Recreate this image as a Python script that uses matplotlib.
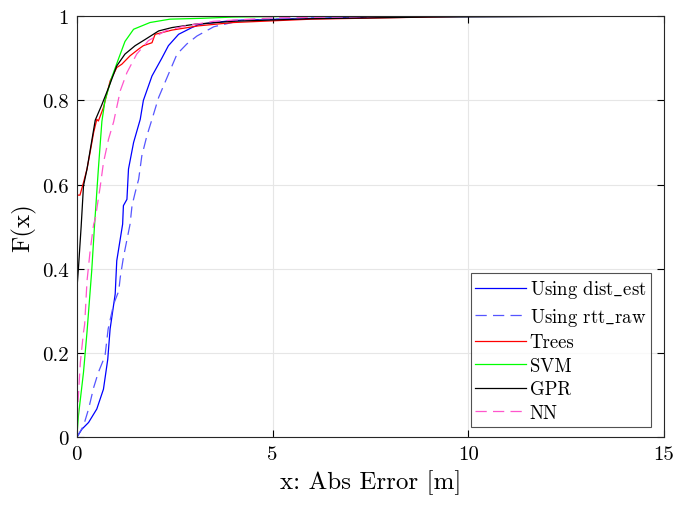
import numpy as np
import matplotlib.pyplot as plt

plt.rcParams['font.family'] = 'serif'
plt.rcParams['font.serif'] = ['cmr10']
plt.rcParams['mathtext.fontset'] = 'cm'
plt.rcParams['axes.formatter.use_mathtext'] = True

# CDF curves (x = abs error [m], F = cumulative fraction)
dist_x = [0, 0.13, 0.30, 0.51, 0.68, 0.79, 0.85, 0.98, 1.02, 1.17, 1.19, 1.28, 1.32, 1.45,
          1.62, 1.70, 1.92, 2.17, 2.34, 2.60, 2.94, 3.14, 4.0, 6.0, 9.0, 14.4]
dist_F = [0, 0.019, 0.035, 0.067, 0.114, 0.185, 0.257, 0.34, 0.419, 0.506, 0.55, 0.565, 0.637, 0.70,
          0.755, 0.80, 0.858, 0.90, 0.93, 0.957, 0.973, 0.981, 0.99, 0.995, 0.999, 1.0]

rtt_x = [0, 0.17, 0.30, 0.43, 0.55, 0.72, 0.80, 0.94, 1.07, 1.11, 1.19, 1.36, 1.41, 1.49,
         1.58, 1.66, 1.79, 1.92, 2.09, 2.34, 2.56, 2.81, 3.07, 3.5, 4.2, 6.0, 9.0]
rtt_F = [0, 0.027, 0.067, 0.118, 0.154, 0.193, 0.257, 0.316, 0.347, 0.38, 0.427, 0.506, 0.55, 0.581,
         0.613, 0.668, 0.716, 0.755, 0.807, 0.862, 0.91, 0.934, 0.953, 0.975, 0.99, 0.996, 1.0]

trees_x = [0, 0, 0.08, 0.17, 0.26, 0.34, 0.43, 0.51, 0.55, 0.68, 0.85, 1.02, 1.15, 1.36,
           1.58, 1.70, 1.92, 2.0, 2.43, 3.1, 4.0, 6.0, 9.0, 10.0, 14.4]
trees_F = [0, 0.575, 0.575, 0.605, 0.637, 0.677, 0.724, 0.755, 0.751, 0.783, 0.846, 0.878, 0.886, 0.906,
           0.922, 0.93, 0.937, 0.957, 0.967, 0.977, 0.985, 0.993, 0.998, 1.0, 1.0]

svm_x = [0, 0.04, 0.17, 0.26, 0.38, 0.45, 0.55, 0.64, 0.72, 0.89, 1.07, 1.23, 1.45, 1.87,
         2.38, 3.2, 4.0, 6.0]
svm_F = [0, 0.05, 0.154, 0.25, 0.395, 0.50, 0.637, 0.75, 0.80, 0.854, 0.90, 0.94, 0.969, 0.985,
         0.993, 0.995, 0.998, 1.0]

gpr_x = [0, 0.0, 0.04, 0.11, 0.17, 0.26, 0.47, 0.64, 0.81, 1.02, 1.23, 1.49, 1.75, 2.09,
         2.43, 3.02, 4.0, 6.0, 9.0, 14.4]
gpr_F = [0, 0.35, 0.40, 0.50, 0.597, 0.637, 0.753, 0.79, 0.83, 0.882, 0.91, 0.93, 0.945, 0.965,
         0.973, 0.981, 0.988, 0.994, 0.998, 1.0]

nn_x = [0, 0.03, 0.09, 0.17, 0.20, 0.26, 0.34, 0.43, 0.47, 0.60, 0.68, 0.81, 0.94, 1.11,
        1.28, 1.53, 1.83, 2.26, 2.77, 3.5, 5.0, 8.0]
nn_F = [0, 0.083, 0.178, 0.249, 0.268, 0.371, 0.443, 0.506, 0.518, 0.597, 0.652, 0.708, 0.749, 0.823,
        0.866, 0.91, 0.942, 0.965, 0.977, 0.988, 0.996, 1.0]

labels = ['Using ' + r'$\mathrm{dist\_est}$', 'Using ' + r'$\mathrm{rtt\_raw}$',
          'Trees', 'SVM', 'GPR', 'NN']

fig = plt.figure(figsize=(6.74, 5.06), dpi=100)
ax = fig.add_axes([0.114, 0.134, 0.871, 0.832])

dash = (0, (9, 5))
ax.plot(dist_x, dist_F, color='#0000ff', lw=0.9, label=labels[0])
ax.plot(rtt_x, rtt_F, color='#5555ff', lw=0.9, ls=dash, label=labels[1])
ax.plot(trees_x, trees_F, color='#ff0000', lw=0.9, label=labels[2])
ax.plot(svm_x, svm_F, color='#00ff00', lw=0.9, label=labels[3])
ax.plot(gpr_x, gpr_F, color='#000000', lw=0.9, label=labels[4])
ax.plot(nn_x, nn_F, color='#ff55cc', lw=0.9, ls=dash, label=labels[5])

ax.set_xlim(0, 15)
ax.set_ylim(0, 1)
ax.set_xticks([0, 5, 10, 15])
ax.set_xticklabels(['0', '5', '10', '15'])
ax.set_yticks([0, 0.2, 0.4, 0.6, 0.8, 1])
ax.set_yticklabels(['0', '0.2', '0.4', '0.6', '0.8', '1'])
ax.tick_params(direction='in', top=True, right=True, labelsize=15, length=5, width=0.8, pad=6)
ax.grid(True, color='#e6e6e6', lw=0.8)
ax.set_axisbelow(True)
for s in ax.spines.values():
    s.set_color('#262626')
    s.set_linewidth(0.8)

ax.set_xlabel('x: Abs Error [m]', fontsize=18, labelpad=4)
ax.set_ylabel('F(x)', fontsize=18, labelpad=4)

leg = ax.legend(loc='lower right', bbox_to_anchor=(0.978, 0.025), fontsize=13.5,
                frameon=True, fancybox=False, handlelength=2.7, handletextpad=0.2,
                labelspacing=0.3, borderpad=0.25, borderaxespad=0)
leg.get_frame().set_edgecolor('#262626')
leg.get_frame().set_linewidth(0.8)

fig.savefig('out.png', dpi=100)
